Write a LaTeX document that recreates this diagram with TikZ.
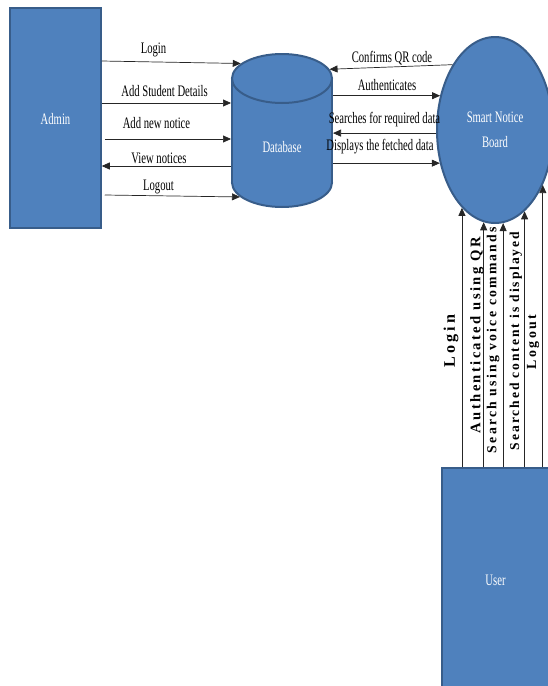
\documentclass[tikz,border=0pt]{standalone}
\usepackage{fontspec}
\usepackage{graphicx}
\setmainfont{Liberation Serif}
\usetikzlibrary{shapes.geometric,arrows.meta}
\definecolor{boxfill}{HTML}{4F81BD}
\definecolor{boxline}{HTML}{385D8A}
\newcommand{\hl}[1]{\scalebox{0.665}[1]{\fontsize{16}{18}\selectfont #1}}
\newcommand{\vl}[3]{\resizebox{#1}{!}{\fontsize{12}{12}\selectfont\bfseries\addfontfeature{LetterSpace=#2}#3}}
\begin{document}
\begin{tikzpicture}[x=1pt,y=-1pt,
  arr/.style={-{Triangle[length=8pt,width=7pt]}, line width=0.7pt, black!85},
  box/.style={draw=boxline, line width=1.5pt, fill=boxfill, text=white, inner sep=0pt},
  cyl/.style={ellipse, fill=boxfill, draw=boxline, line width=2pt, minimum width=100pt, minimum height=49pt, inner sep=0pt},
  lab/.style={inner sep=0pt, text=black},
  vlab/.style={inner sep=0pt, text=black, rotate=90}]
\useasboundingbox (0,0) rectangle (547,686);
% Admin
\node[box, minimum width=91pt, minimum height=220pt, text height=13pt, text depth=0pt] (admin) at (55.5,118) {\hl{Admin}};
% Database cylinder
\node[cyl] (dbbot) at (282,182.5) {};
\fill[boxfill] (232,78.5) rectangle (332,182.5);
\draw[boxline, line width=2pt] (232,78.5) -- (232,182.5) (332,78.5) -- (332,182.5);
\node[cyl] (dbtop) at (282,78.5) {};
\node[lab, text=white] (db) at (282,147) {\hl{Database}};
% Smart Notice Board
\node[ellipse, box, line width=2pt, minimum width=116pt, minimum height=186pt, align=center, font=\fontsize{16}{25}\selectfont] (snb) at (495,130) {\raisebox{-2pt}{\hl{Smart Notice}}\\\raisebox{-2pt}{\hl{Board}}};
% User
\node[box, minimum width=107pt, minimum height=220pt, text height=15pt, text depth=0pt] (user) at (495.5,578) {\hl{User}};
% Admin <-> Database
\draw[arr] (admin.east |- 0,61) -- (dbtop.160);
\node[lab] (t1) at (153.5,50) {\hl{Login}};
\draw[arr] (admin.east |- 0,103) -- (dbtop.west |- 0,103);
\node[lab] (t2) at (164.5,91) {\hl{Add Student Details}};
\draw[arr] ([xshift=3pt]admin.east |- 0,139) -- (dbtop.west |- 0,139);
\node[lab] (t3) at (156.5,123) {\hl{Add new notice}};
\draw[arr] (dbtop.west |- 0,166) -- (admin.east |- 0,166);
\node[lab] (t4) at (159,158) {\hl{View notices}};
\draw[arr] ([xshift=3pt]admin.east |- 0,195) -- (dbbot.199);
\node[lab] (t5) at (158.5,187) {\hl{Logout}};
% Database <-> Smart Notice Board
\draw[arr] (snb.123) -- (dbtop.11);
\node[lab] (t6) at (392,58) {\hl{Confirms QR code}};
\draw[arr] (dbtop.east |- snb.148) -- (snb.148);
\node[lab] (t7) at (387,85) {\hl{Authenticates}};
\draw[arr] (snb.183) -- (dbtop.east |- snb.183);
\node[lab] (t8) at (384.5,120) {\hl{Searches for required data}};
\draw[arr] (dbtop.east |- snb.211) -- (snb.211);
\node[lab] (t9) at (380,147) {\hl{Displays the fetched data}};
% User -> Smart Notice Board
\draw[arr] (snb.247 |- user.north) -- (snb.247);
\draw[arr] (snb.263 |- user.north) -- (snb.263);
\draw[arr] (snb.275 |- user.north) -- (snb.275);
\draw[arr] (snb.290 |- user.north) -- (snb.290);
\draw[arr] (snb.311 |- user.north) -- (snb.311);
\node[vlab] (v1) at (451,341) {\vl{52pt}{18}{Login}};
\node[vlab] (v2) at (477,335) {\vl{196pt}{16}{Authenticated using QR}};
\node[vlab] (v3) at (493,340) {\vl{226pt}{16}{Search using voice commands}};
\node[vlab] (v4) at (516,341) {\vl{218pt}{14}{Searched content is displayed}};
\node[vlab] (v5) at (533,342) {\vl{55pt}{18}{Logout}};
\end{tikzpicture}
\end{document}
